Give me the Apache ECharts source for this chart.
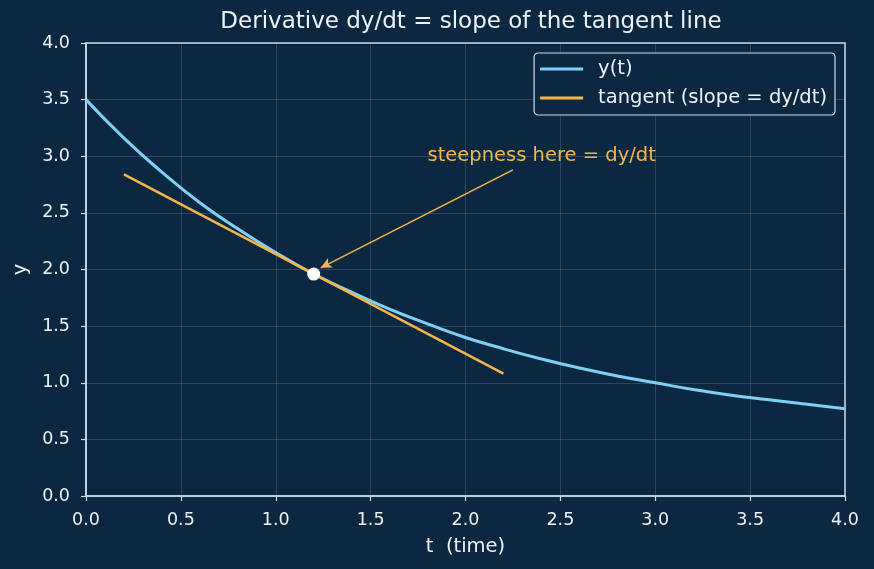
<!DOCTYPE html>
<html>
<head>
<meta charset="utf-8">
<script src="https://cdn.jsdelivr.net/npm/echarts@6/dist/echarts.min.js"></script>
<style>
  html, body { margin: 0; padding: 0; background: #0b2840; }
  #chart { width: 874px; height: 569px; }
</style>
</head>
<body>
<div id="chart"></div>
<script>
// curve y(t), every 0.2
var tValues = [0, 0.2, 0.4, 0.6, 0.8, 1.0, 1.2, 1.4, 1.6, 1.8, 2.0, 2.2, 2.4, 2.6, 2.8, 3.0, 3.2, 3.4, 3.6, 3.8, 4.0];
var yValues = [3.5, 3.16, 2.86, 2.59, 2.36, 2.15, 1.96, 1.80, 1.65, 1.52, 1.40, 1.30, 1.21, 1.13, 1.06, 1.0, 0.94, 0.89, 0.85, 0.81, 0.77];

// tangent line ends
var tangentT = [0.2, 2.2];
var tangentY = [2.84, 1.08];

// touching point
var pointT = 1.2;
var pointY = 1.96;

// annotation
var noteText = 'steepness here = dy/dt';
var noteAt = [1.8, 3.0];
var arrowFrom = [2.25, 2.88];
var arrowTo = [1.237, 2.015];

var tickLabels = ['0.0', '0.5', '1.0', '1.5', '2.0', '2.5', '3.0', '3.5', '4.0'];

;(function () {
  var chart = echarts.init(document.getElementById('chart'));

  var curve = tValues.map(function (t, i) { return [t, yValues[i]]; });
  var tangent = tangentT.map(function (t, i) { return [t, tangentY[i]]; });

  var font = 'DejaVu Sans';
  var txt = '#eef3f7';
  var axisCol = '#c9dceb';
  var gridCol = 'rgba(190,210,230,0.18)';
  var orange = '#f5b54c';
  var blue = '#80cff6';

  function fmt(v) { return tickLabels[Math.round(v / 0.5)] || v.toFixed(1); }

  var option = {
    backgroundColor: '#0b2840',
    animation: false,
    textStyle: { fontFamily: font },
    title: {
      text: 'Derivative dy/dt = slope of the tangent line',
      left: 466,
      textAlign: 'center',
      top: 6,
      textStyle: { color: txt, fontFamily: font, fontSize: 23, fontWeight: 'normal' }
    },
    legend: {
      orient: 'vertical',
      right: 39,
      top: 53,
      data: [
        { name: 'y(t)', icon: 'rect' },
        { name: 'tangent (slope = dy/dt)', icon: 'rect' }
      ],
      itemWidth: 43,
      itemHeight: 3,
      itemGap: 9,
      padding: [6, 8, 7, 6],
      backgroundColor: '#0b2840',
      borderColor: axisCol,
      borderWidth: 1.2,
      borderRadius: 4,
      textStyle: { color: txt, fontFamily: font, fontSize: 19.5, padding: [0, 0, 0, 10] }
    },
    grid: {
      left: 86, right: 29, top: 43, bottom: 73,
      show: true,
      borderColor: axisCol,
      borderWidth: 1.5,
      backgroundColor: 'transparent'
    },
    xAxis: {
      type: 'value',
      min: 0, max: 4, interval: 0.5,
      name: 't  (time)',
      nameLocation: 'middle',
      nameGap: 41,
      nameTextStyle: { color: txt, fontFamily: font, fontSize: 19.5 },
      axisLine: { show: true, onZero: false, lineStyle: { color: axisCol, width: 1.5 } },
      axisTick: { show: true, length: 5, lineStyle: { color: axisCol, width: 1.2 } },
      axisLabel: { color: txt, fontFamily: font, fontSize: 17.5, margin: 15, formatter: fmt },
      splitLine: { show: true, lineStyle: { color: gridCol, width: 1 } }
    },
    yAxis: {
      type: 'value',
      min: 0, max: 4, interval: 0.5,
      name: 'y',
      nameLocation: 'middle',
      nameGap: 52,
      nameRotate: 90,
      nameTextStyle: { color: txt, fontFamily: font, fontSize: 19.5 },
      axisLine: { show: true, onZero: false, lineStyle: { color: axisCol, width: 1.5 } },
      axisTick: { show: true, length: 5, lineStyle: { color: axisCol, width: 1.2 } },
      axisLabel: { color: txt, fontFamily: font, fontSize: 17.5, margin: 16, formatter: fmt },
      splitLine: { show: true, lineStyle: { color: gridCol, width: 1 } }
    },
    series: [
      {
        name: 'y(t)',
        type: 'line',
        data: curve,
        smooth: true,
        symbol: 'none',
        lineStyle: { color: blue, width: 3 },
        itemStyle: { color: blue },
        z: 3
      },
      {
        name: 'tangent (slope = dy/dt)',
        type: 'line',
        data: tangent,
        symbol: 'none',
        lineStyle: { color: orange, width: 2.5 },
        itemStyle: { color: orange },
        z: 4
      },
      {
        name: 'point',
        type: 'scatter',
        data: [[pointT, pointY]],
        symbolSize: 13,
        itemStyle: { color: '#ffffff', opacity: 1 },
        z: 6,
        markLine: {
          silent: true,
          symbol: ['none', 'arrow'],
          symbolSize: [8, 11],
          lineStyle: { color: orange, width: 1.5, type: 'solid' },
          label: { show: false },
          data: [[{ coord: arrowFrom }, { coord: arrowTo }]]
        },
        markPoint: {
          silent: true,
          symbol: 'circle',
          symbolSize: 0,
          data: [{ coord: noteAt }],
          label: {
            show: true,
            position: 'right',
            distance: 0,
            formatter: noteText,
            color: orange,
            fontFamily: font,
            fontSize: 19.5
          }
        }
      }
    ]
  };

  chart.setOption(option);
})();
</script>
</body>
</html>
